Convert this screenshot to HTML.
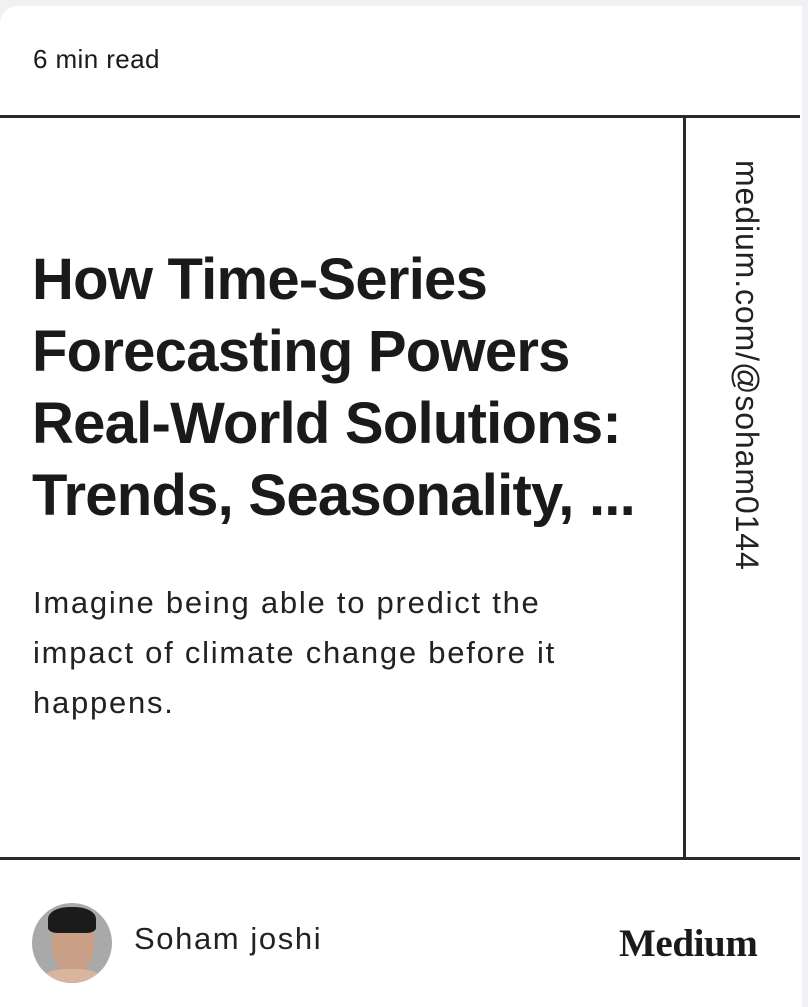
<!DOCTYPE html>
<html><head><meta charset="utf-8">
<style>
html,body{margin:0;padding:0;width:808px;height:1007px;overflow:hidden;background:#f1f1f3;font-family:"Liberation Sans",sans-serif;color:#1a1a1a}
.card{position:absolute;left:0;top:6px;width:802px;height:1001px;background:#fff;border-top-left-radius:18px}
.abs{position:absolute}
</style></head><body>
<div class="card"></div>
<div class="abs" style="left:33px;top:44px;font-size:26px;letter-spacing:0.4px">6 min read</div>
<div class="abs" style="left:0;top:115px;width:800px;height:3px;background:#2a2a2a"></div>
<div class="abs" style="left:0;top:857px;width:800px;height:3px;background:#2a2a2a"></div>
<div class="abs" style="left:683px;top:116px;width:3px;height:743px;background:#2a2a2a"></div>
<div class="abs" style="left:32px;top:244px;width:650px;font-size:58px;font-weight:bold;line-height:72px;letter-spacing:-0.75px;white-space:nowrap">How Time-Series<br>Forecasting Powers<br>Real-World Solutions:<br>Trends, Seasonality, ...</div>
<div class="abs" style="left:33px;top:578px;width:640px;font-size:31px;line-height:50px;letter-spacing:1.75px;color:#222;white-space:nowrap">Imagine being able to predict the<br>impact of climate change before it<br>happens.</div>
<div class="abs" style="left:763px;top:160px;transform-origin:0 0;transform:rotate(90deg);font-size:32px;white-space:nowrap;letter-spacing:0.9px;color:#222;line-height:1">medium.com/@soham0144</div>
<div class="abs" style="left:32px;top:903px;width:80px;height:80px;border-radius:50%;background:#a9a9a9;overflow:hidden">
 <div style="position:absolute;left:20px;top:10px;width:42px;height:60px;border-radius:45%;background:#c9a085"></div>
 <div style="position:absolute;left:16px;top:4px;width:48px;height:26px;border-radius:45% 45% 20% 20%;background:#1b1b1b"></div>
 <div style="position:absolute;left:12px;top:66px;width:56px;height:20px;border-radius:40%;background:#d8b59c"></div>
</div>
<div class="abs" style="left:134px;top:921px;font-size:31px;letter-spacing:1.6px;color:#222">Soham joshi</div>
<div class="abs" style="left:619px;top:921px;font-family:'Liberation Serif',serif;font-weight:bold;font-size:39px;letter-spacing:-0.4px;color:#1a1a1a">Medium</div>
</body></html>
